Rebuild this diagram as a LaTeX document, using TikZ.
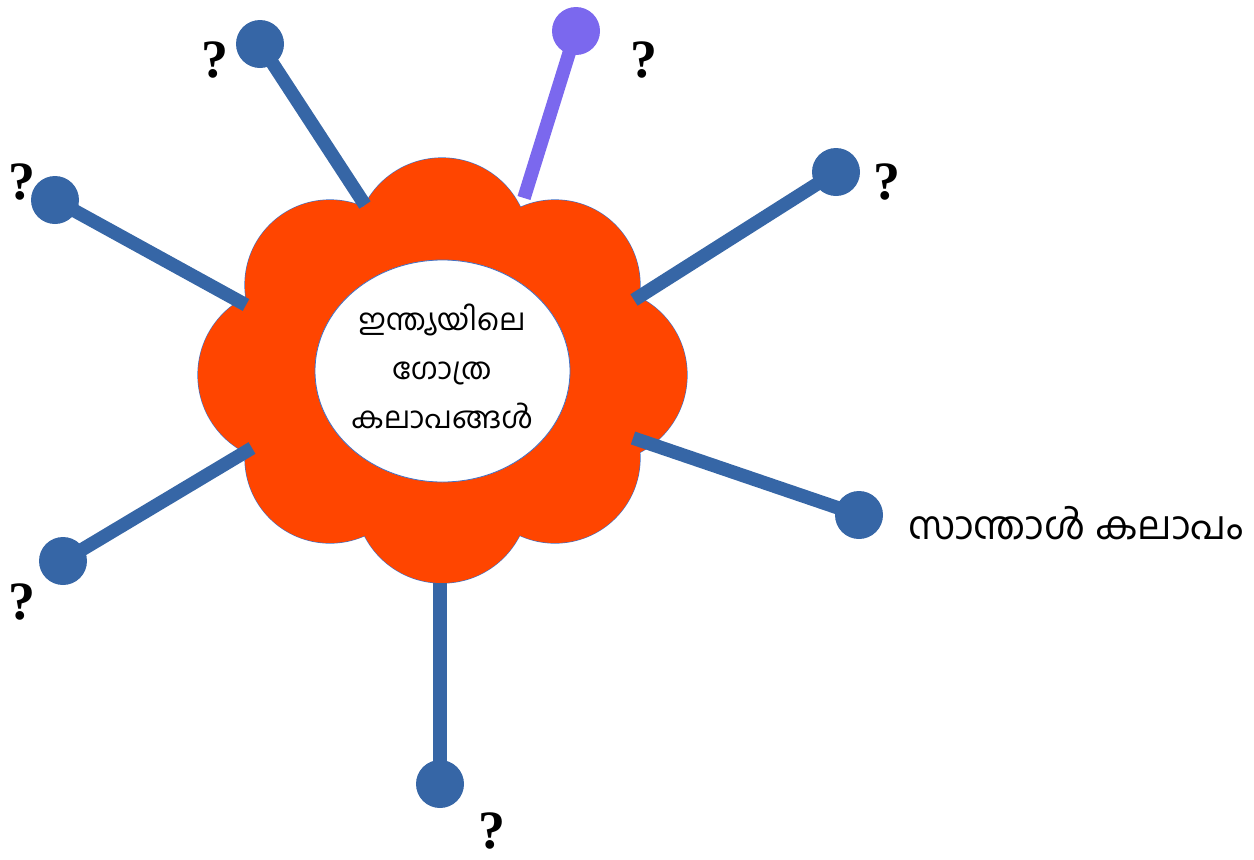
\documentclass[tikz,border=0pt]{standalone}
\usepackage{fontspec}
\usetikzlibrary{shapes.geometric}
\newfontfamily\mlfont[Script=Malayalam]{Hind Kochi}
\newfontfamily\qfont{Liberation Serif}
\definecolor{spokeblue}{RGB}{54,102,166}
\definecolor{spokepurple}{RGB}{123,104,238}
\definecolor{petal}{RGB}{255,69,0}
\definecolor{edgeblue}{RGB}{68,114,196}
\begin{document}
\begin{tikzpicture}[x=1pt,y=-1pt,
  spoke/.style={line width=13.5pt,line cap=butt,draw=spokeblue},
  dotnode/.style={circle,fill=spokeblue,minimum size=48pt,inner sep=0pt},
  qmark/.style={font=\qfont\bfseries\fontsize{54}{54}\selectfont,inner sep=0pt},
  mltext/.style={font=\mlfont\fontsize{30}{49}\selectfont,align=center,inner sep=0pt}]
\useasboundingbox (0,0) rectangle (1254,860);
% flower
\foreach \x/\y/\r in {442/245/87,442/496/87,285/375/87,600/375/87,330/285/85,555/285/85,330/458/85,555/458/85}
  \draw[edgeblue,line width=1.2pt] (\x,\y) circle[radius=\r pt];
\foreach \x/\y/\r in {442/245/87,442/496/87,285/375/87,600/375/87,330/285/85,555/285/85,330/458/85,555/458/85}
  \fill[petal] (\x,\y) circle[radius=\r pt];
\fill[petal] (442,375) circle[radius=150pt];
\node[ellipse,draw=edgeblue,line width=0.8pt,fill=white,minimum width=255pt,minimum height=222pt,inner sep=0pt] (core) at (442.5,371) {};
\node[mltext] (title) at (442,366) {ഇന്ത്യയിലെ\\ഗോത്ര\\കലാപങ്ങൾ};
% spoke start points
\coordinate (s1) at (365,205);
\coordinate (s2) at (524,198);
\coordinate (s3) at (246,305);
\coordinate (s4) at (634,300);
\coordinate (s5) at (252,448);
\coordinate (s6) at (633,438);
\coordinate (s7) at (440,583);
% dots
\node[dotnode] (d1) at (260,44) {};
\node[dotnode,fill=spokepurple] (d2) at (576,31) {};
\node[dotnode] (d3) at (55,200) {};
\node[dotnode] (d4) at (836,172) {};
\node[dotnode] (d5) at (63,561) {};
\node[dotnode] (d6) at (859,515) {};
\node[dotnode] (d7) at (440,784) {};
% spokes
\draw[spoke] (s1) -- (d1.center);
\draw[spoke,draw=spokepurple] (s2) -- (d2.center);
\draw[spoke] (s3) -- (d3.center);
\draw[spoke] (s4) -- (d4.center);
\draw[spoke] (s5) -- (d5.center);
\draw[spoke] (s6) -- (d6.center);
\draw[spoke] (s7) -- (d7.center);
% labels
\node[qmark] (q1) at (215,60) {?};
\node[qmark] (q2) at (644,60) {?};
\node[qmark] (q3) at (22,182) {?};
\node[qmark] (q4) at (887,182) {?};
\node[qmark] (q5) at (22,602) {?};
\node[qmark] (q7) at (492,831) {?};
\node[anchor=west,font=\mlfont\fontsize{39}{42}\selectfont,inner sep=0pt] (santhal) at (908,523) {സാന്താൾ കലാപം};
\end{tikzpicture}
\end{document}
